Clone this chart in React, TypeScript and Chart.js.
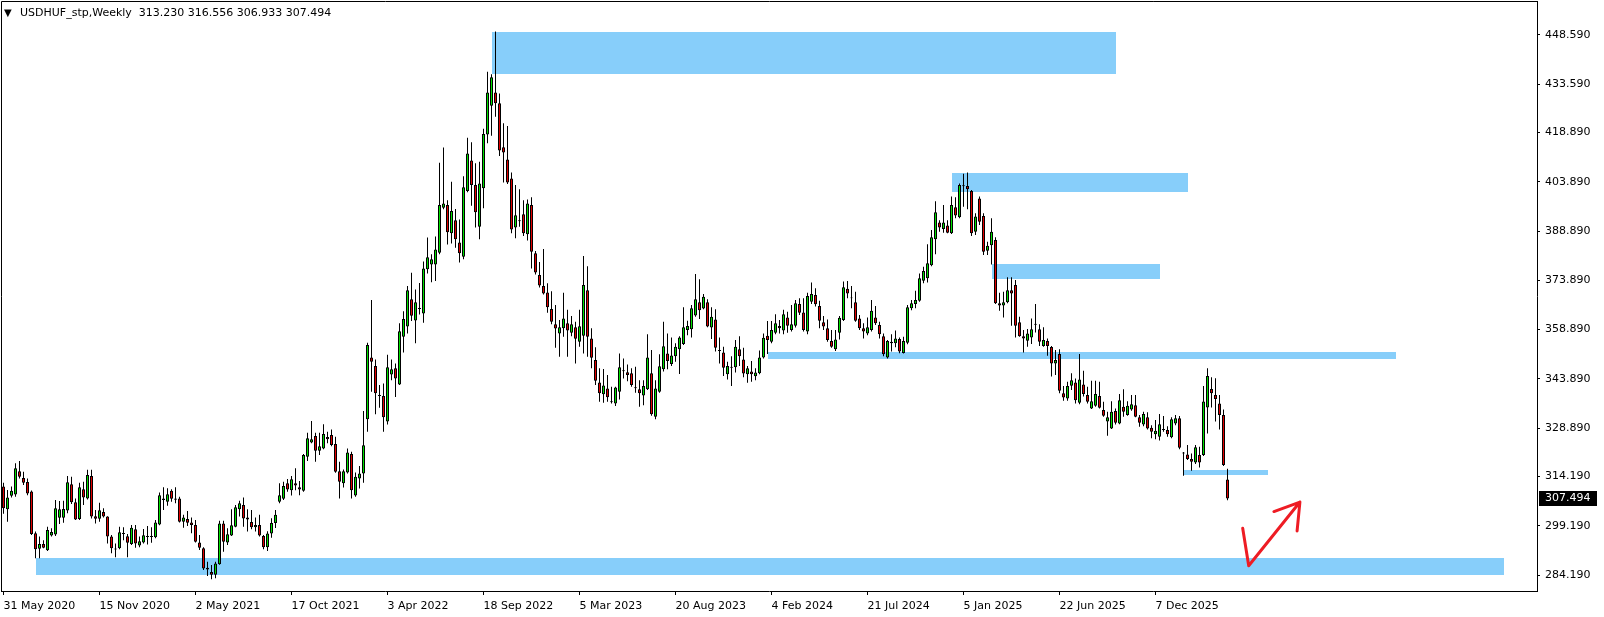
import React, { useEffect, useRef } from 'react';
import { Chart, registerables } from 'chart.js';

Chart.register(...registerables);

// ---- header text ----
const symbolTitle = 'USDHUF_stp,Weekly';
const headerValues = ['313.230', '316.556', '306.933', '307.494'];

// ---- x axis: weekly bars, first bar = 31 May 2020, label every 24 weeks ----
const dateLabels = [
  '31 May 2020', '15 Nov 2020', '2 May 2021', '17 Oct 2021', '3 Apr 2022', '18 Sep 2022',
  '5 Mar 2023', '20 Aug 2023', '4 Feb 2024', '21 Jul 2024', '5 Jan 2025', '22 Jun 2025', '7 Dec 2025',
];
const labelStep = 24;

// ---- y axis tick labels ----
const priceTicks = [284.19, 299.19, 314.19, 328.89, 343.89, 358.89, 373.89, 388.89, 403.89, 418.89, 433.59, 448.59];

// ---- weekly OHLC ----
const opens = [
  311.1, 304.2, 308.3, 308.7, 315.8, 313.7, 312.5, 309.6, 296.9, 292.2,
  293.6, 291.7, 296.2, 296.5, 301.6, 301.6, 303.8, 311.8, 306.3, 301.2,
  310.3, 307.5, 314.3, 302.1, 301.3, 303.4, 302.0, 295.9, 292.0, 292.3,
  296.9, 296.0, 293.6, 298.1, 293.2, 294.1, 295.8, 296.0, 295.7, 299.6,
  307.0, 306.5, 309.8, 307.5, 307.5, 300.4, 301.2, 300.2, 299.4, 294.1,
  292.3, 286.4, 285.1, 284.3, 287.5, 299.9, 294.1, 296.2, 298.9, 304.2,
  305.5, 301.7, 300.3, 298.7, 299.4, 296.1, 292.6, 296.8, 300.0, 306.5,
  307.4, 312.1, 310.0, 312.1, 310.9, 309.8, 320.2, 324.5, 326.5, 322.0,
  322.7, 326.2, 326.8, 324.1, 315.8, 312.1, 315.4, 321.0, 308.4, 313.6,
  315.1, 331.6, 350.4, 347.8, 338.9, 338.7, 330.9, 345.2, 347.1, 342.2,
  356.7, 359.8, 368.1, 361.7, 365.4, 363.8, 377.3, 378.7, 378.7, 382.3,
  396.0, 396.8, 388.2, 392.2, 385.4, 381.1, 401.1, 410.4, 402.9, 390.2,
  401.9, 418.3, 427.0, 431.1, 427.8, 414.4, 410.7, 404.9, 390.0, 392.1,
  394.0, 387.9, 396.8, 382.1, 375.5, 372.2, 370.2, 365.2, 360.5, 357.7,
  359.3, 360.8, 357.9, 359.6, 355.2, 357.0, 370.9, 356.2, 349.6, 342.8,
  339.2, 341.0, 337.1, 336.4, 340.0, 346.5, 345.9, 345.6, 341.3, 340.7,
  338.8, 340.7, 345.6, 332.4, 340.0, 346.8, 351.6, 348.4, 350.8, 352.9,
  354.5, 358.8, 359.0, 363.2, 367.2, 365.3, 367.2, 359.5, 362.0, 352.6,
  351.9, 345.3, 347.5, 347.4, 352.9, 349.8, 345.3, 346.1, 344.7, 345.6,
  350.4, 357.0, 355.2, 357.9, 360.0, 358.6, 362.6, 358.8, 360.1, 366.7,
  364.1, 358.3, 367.4, 369.4, 366.1, 361.1, 359.3, 355.4, 352.9, 357.9,
  361.8, 371.3, 368.7, 367.2, 362.3, 359.3, 357.7, 358.8, 362.6, 360.3,
  356.9, 350.4, 355.2, 354.7, 356.0, 351.8, 354.9, 365.4, 366.7, 367.7,
  373.8, 374.5, 378.5, 386.4, 391.5, 389.5, 390.6, 388.2, 396.1, 393.1,
  402.8, 402.6, 401.1, 388.7, 398.8, 393.5, 382.9, 384.6, 386.2, 366.9,
  366.2, 367.2, 370.9, 372.5, 361.1, 356.9, 355.5, 356.5, 360.6, 359.0,
  353.9, 355.4, 353.6, 348.6, 351.5, 339.5, 337.9, 341.8, 342.8, 336.6,
  342.2, 339.0, 334.9, 335.7, 338.7, 334.4, 330.9, 328.8, 334.1, 330.3,
  335.4, 332.9, 334.6, 335.9, 332.2, 330.0, 332.2, 329.0, 327.0, 326.3,
  328.6, 328.3, 326.1, 330.3, 331.9, 321.5, 320.9, 319.5, 318.4, 320.7,
  320.7, 335.2, 340.8, 339.0, 336.4, 332.9, 313.23,
];
const highs = [
  312.3, 310.1, 311.1, 318.2, 318.9, 315.6, 313.6, 309.9, 297.4, 295.9,
  294.8, 298.9, 298.4, 307.0, 306.7, 306.8, 314.3, 314.1, 307.5, 312.3,
  312.6, 316.2, 316.2, 304.0, 306.2, 304.5, 302.1, 296.4, 293.8, 298.9,
  298.7, 296.7, 299.4, 299.4, 295.9, 298.2, 299.1, 298.7, 300.9, 309.3,
  310.9, 310.6, 310.3, 310.9, 308.0, 302.5, 303.7, 301.7, 300.9, 296.4,
  292.6, 288.2, 287.2, 288.2, 300.7, 300.7, 298.4, 304.2, 305.5, 306.8,
  307.8, 304.2, 304.0, 301.7, 302.5, 296.4, 297.5, 301.5, 304.0, 312.1,
  312.6, 313.4, 314.3, 316.7, 312.8, 321.0, 327.5, 331.1, 327.5, 327.5,
  330.1, 327.8, 328.5, 326.3, 318.7, 316.3, 322.7, 321.7, 315.4, 317.4,
  334.1, 354.9, 367.9, 349.8, 342.0, 342.5, 351.2, 349.8, 348.6, 360.8,
  364.5, 372.2, 376.2, 371.1, 373.1, 379.6, 386.9, 381.8, 387.2, 409.7,
  414.3, 398.3, 403.9, 395.6, 392.4, 405.6, 417.3, 415.9, 409.5, 410.0,
  420.0, 437.4, 436.6, 449.6, 430.8, 421.7, 420.9, 406.7, 402.9, 401.6,
  398.3, 398.5, 399.2, 382.8, 379.5, 383.4, 373.0, 370.6, 366.4, 361.8,
  370.1, 364.9, 363.0, 361.3, 364.9, 381.3, 378.2, 359.3, 353.5, 347.1,
  346.9, 345.1, 341.5, 341.5, 351.6, 350.1, 348.3, 347.1, 347.6, 343.5,
  343.5, 357.5, 352.7, 343.5, 351.4, 361.3, 357.7, 356.5, 354.7, 356.9,
  365.7, 361.6, 366.4, 375.8, 374.2, 369.7, 368.1, 365.7, 365.1, 356.5,
  353.7, 349.1, 350.8, 355.7, 356.9, 353.4, 347.8, 349.3, 347.1, 352.5,
  357.7, 361.5, 361.5, 363.6, 361.8, 364.9, 364.3, 366.4, 367.9, 368.4,
  368.4, 370.1, 373.2, 371.5, 367.7, 363.0, 362.0, 358.8, 358.8, 363.0,
  373.5, 373.7, 372.2, 370.4, 363.3, 360.8, 362.6, 367.9, 366.1, 361.3,
  357.7, 355.7, 357.5, 358.6, 356.5, 356.7, 366.4, 367.9, 370.7, 376.0,
  378.0, 384.9, 389.2, 398.0, 392.2, 396.8, 392.2, 399.4, 399.2, 403.4,
  406.3, 406.7, 401.4, 394.3, 399.4, 394.3, 385.6, 392.8, 387.0, 370.1,
  370.4, 374.8, 374.8, 374.0, 362.8, 358.8, 359.1, 362.3, 366.7, 360.5,
  359.6, 356.2, 353.9, 352.7, 352.9, 341.7, 343.0, 345.6, 344.0, 351.5,
  346.4, 341.5, 343.3, 343.3, 343.0, 336.9, 333.9, 337.1, 334.9, 339.3,
  340.7, 337.1, 339.0, 339.0, 332.9, 333.9, 333.7, 329.8, 331.4, 333.2,
  332.6, 329.5, 332.2, 332.9, 332.6, 321.6, 323.8, 321.2, 323.8, 323.2,
  341.7, 347.1, 344.4, 344.1, 339.0, 334.6, 316.556,
];
const lows = [
  302.8, 300.4, 307.8, 308.0, 313.6, 311.6, 308.5, 296.4, 289.3, 289.3,
  292.3, 291.5, 295.9, 296.1, 299.7, 300.1, 303.0, 305.8, 300.9, 300.9,
  305.5, 307.2, 301.4, 299.9, 300.4, 301.7, 293.8, 290.8, 289.6, 292.0,
  294.8, 289.6, 293.3, 292.5, 292.6, 293.8, 293.5, 294.0, 295.4, 299.3,
  304.0, 305.3, 306.5, 306.0, 300.2, 298.6, 299.1, 296.9, 294.1, 291.8,
  285.7, 283.9, 282.9, 283.2, 287.3, 291.3, 293.3, 296.1, 298.7, 302.0,
  298.9, 297.4, 298.1, 297.4, 295.9, 292.0, 291.5, 295.5, 298.5, 306.0,
  307.0, 309.5, 308.4, 310.0, 308.5, 309.5, 318.9, 324.3, 318.7, 320.7,
  322.5, 324.3, 323.4, 315.3, 307.5, 310.8, 315.1, 307.5, 308.0, 310.5,
  312.3, 327.8, 340.0, 333.1, 335.1, 327.8, 330.0, 343.5, 338.4, 342.0,
  351.9, 357.7, 361.5, 354.7, 363.5, 361.0, 376.0, 373.3, 373.7, 381.8,
  395.5, 384.8, 385.1, 383.8, 379.3, 380.3, 400.7, 396.6, 390.0, 386.4,
  395.8, 415.6, 417.9, 423.7, 411.7, 403.7, 403.2, 388.2, 386.7, 390.2,
  387.4, 386.0, 377.5, 375.7, 371.7, 369.6, 364.0, 360.5, 353.4, 350.6,
  356.7, 350.6, 356.9, 348.6, 353.7, 351.6, 350.6, 347.1, 342.0, 336.9,
  336.6, 336.9, 336.4, 335.6, 337.6, 344.0, 343.2, 341.5, 339.7, 335.4,
  335.9, 340.5, 332.7, 331.6, 339.7, 346.1, 346.8, 347.8, 349.1, 345.4,
  354.2, 357.2, 356.5, 362.8, 362.1, 365.1, 359.6, 356.0, 352.2, 348.6,
  344.8, 343.7, 341.7, 345.8, 347.8, 344.4, 342.7, 343.0, 343.5, 345.3,
  350.1, 351.5, 354.7, 357.5, 357.7, 357.5, 357.9, 358.3, 359.5, 363.3,
  358.3, 357.5, 366.7, 365.9, 359.3, 358.8, 355.2, 353.4, 352.4, 355.9,
  361.5, 368.4, 365.4, 361.3, 358.8, 356.2, 357.2, 358.3, 360.3, 356.2,
  350.8, 350.1, 352.2, 353.5, 351.7, 351.6, 354.4, 364.8, 365.4, 367.4,
  373.0, 373.2, 378.2, 381.8, 388.7, 388.4, 388.2, 388.0, 392.8, 392.8,
  396.3, 395.5, 387.4, 387.7, 390.7, 381.6, 381.6, 378.7, 366.7, 364.6,
  362.6, 366.9, 360.1, 356.5, 356.7, 351.9, 353.7, 354.5, 358.0, 353.9,
  353.7, 350.9, 344.6, 345.1, 339.5, 337.2, 337.2, 340.5, 336.4, 336.2,
  338.5, 336.4, 334.7, 335.4, 334.9, 332.4, 326.6, 328.6, 330.0, 330.1,
  332.4, 332.7, 334.2, 332.2, 329.3, 329.5, 328.5, 325.8, 325.5, 325.1,
  327.8, 326.3, 325.8, 329.8, 322.5, 314.4, 319.2, 315.9, 318.0, 316.9,
  320.4, 327.3, 335.2, 330.9, 328.5, 317.4, 306.933,
];
const closes = [
  304.5, 307.8, 309.8, 316.7, 314.1, 312.3, 309.0, 296.7, 292.0, 293.6,
  292.5, 297.9, 297.3, 304.5, 304.2, 304.3, 312.4, 306.3, 301.1, 310.9,
  307.8, 314.6, 302.0, 301.3, 303.9, 302.0, 295.9, 292.3, 292.2, 297.2,
  296.7, 294.0, 298.6, 293.8, 294.5, 296.3, 296.0, 295.8, 300.2, 308.5,
  307.5, 308.8, 307.4, 307.1, 300.4, 301.7, 300.1, 299.4, 294.3, 292.5,
  286.2, 285.9, 284.3, 287.7, 299.9, 294.3, 296.6, 299.3, 304.8, 306.0,
  301.4, 301.1, 298.7, 299.4, 296.2, 292.6, 296.8, 300.0, 302.5, 308.5,
  311.3, 310.2, 313.3, 311.4, 310.2, 320.7, 325.8, 325.5, 322.0, 323.4,
  327.1, 325.5, 323.8, 315.6, 312.6, 315.8, 321.5, 310.0, 314.1, 315.1,
  323.7, 354.2, 349.1, 339.5, 338.7, 332.2, 347.4, 346.8, 344.0, 358.4,
  362.1, 370.9, 363.1, 367.2, 365.2, 377.5, 380.9, 380.3, 383.3, 396.8,
  397.3, 388.5, 395.0, 386.4, 382.1, 402.2, 412.5, 402.9, 394.6, 403.4,
  418.4, 431.1, 435.7, 427.8, 413.4, 412.8, 403.7, 389.4, 393.7, 391.9,
  388.2, 397.3, 382.6, 376.3, 372.3, 369.9, 365.7, 361.3, 359.2, 359.6,
  362.3, 358.6, 360.5, 356.1, 359.9, 372.5, 356.7, 350.3, 343.3, 339.5,
  341.9, 338.3, 336.8, 341.3, 347.4, 346.3, 345.1, 342.0, 341.1, 339.5,
  341.7, 350.4, 333.1, 341.0, 347.7, 353.8, 349.3, 351.0, 353.7, 356.5,
  359.6, 360.0, 365.4, 368.1, 364.8, 368.9, 359.8, 362.8, 353.4, 352.4,
  347.3, 347.8, 347.3, 353.7, 350.8, 345.5, 347.1, 345.3, 345.8, 350.4,
  356.4, 355.7, 358.8, 360.8, 359.3, 363.6, 360.1, 360.5, 366.9, 364.0,
  358.8, 369.1, 369.7, 366.6, 361.6, 359.8, 355.7, 353.7, 355.9, 362.5,
  371.8, 369.9, 368.4, 361.6, 359.3, 358.3, 359.6, 364.6, 360.8, 357.5,
  351.4, 355.4, 354.7, 356.2, 352.2, 355.4, 365.7, 366.9, 367.9, 374.5,
  376.7, 379.1, 387.0, 394.6, 390.0, 391.5, 388.4, 396.8, 393.6, 402.9,
  402.5, 401.6, 388.2, 393.3, 391.7, 382.6, 384.4, 388.7, 366.9, 366.2,
  367.2, 370.9, 369.9, 360.1, 356.9, 356.2, 357.7, 359.0, 360.4, 355.2,
  355.7, 353.9, 348.6, 349.6, 340.3, 338.2, 341.7, 343.5, 337.4, 343.7,
  339.3, 336.9, 337.1, 339.3, 335.1, 332.7, 332.2, 333.9, 330.5, 337.4,
  333.9, 335.7, 336.2, 332.4, 330.5, 333.2, 328.8, 327.8, 328.1, 330.1,
  328.4, 327.0, 331.6, 331.9, 322.9, 321.2, 319.5, 318.7, 323.1, 318.4,
  337.0, 344.8, 339.5, 337.8, 332.9, 317.7, 307.494,
];

// ---- rectangles (zones): bar index range and price range ----
const zoneStart = [122, 237, 247, 191, 295, 8];
const zoneEnd = [278, 296, 289, 348, 316, 375];
const zoneLow = [436.8, 400.9, 374.3, 350.0, 314.7, 284.2];
const zoneHigh = [449.6, 406.7, 378.9, 352.1, 316.2, 289.4];

// ---- hand-drawn red arrow (bar index, price); null breaks the stroke ----
const arrowX = [309.8, 311.3, 324.1, null, 317.6, 324.1, 323.4];
const arrowY = [298.4, 287.0, 306.4, null, 303.5, 306.4, 297.6];

const BULL = '#00e000';
const BEAR = '#e00000';
const ZONE = '#87cefa';
const ARROW = '#ee1c24';
const FONT = '"DejaVu Sans", Verdana, sans-serif';

export default function App() {
  const ref = useRef<HTMLCanvasElement>(null);

  useEffect(() => {
    const canvas = ref.current;
    if (!canvas) return;

    const n = opens.length;
    const wickData = opens.map((_, i) => ({ x: i, y: [lows[i], highs[i]] }));
    const bodyData = opens.map((o, i) => {
      let a = o;
      let b = closes[i];
      if (Math.abs(a - b) < 0.3) {
        const m = (a + b) / 2;
        a = m - 0.15;
        b = m + 0.15;
      }
      return { x: i, y: [a, b] };
    });
    const bodyColors = opens.map((o, i) => (closes[i] >= o ? BULL : BEAR));
    const arrowData = arrowX.map((x, i) => ({ x: x == null ? (arrowX[i - 1] as number) : x, y: arrowY[i] }));

    const zonesPlugin = {
      id: 'zones',
      beforeDatasetsDraw(chart: any) {
        const { ctx, chartArea, scales } = chart;
        const xs = scales.x;
        const ys = scales.y;
        ctx.save();
        ctx.beginPath();
        ctx.rect(chartArea.left, chartArea.top, chartArea.right - chartArea.left, chartArea.bottom - chartArea.top);
        ctx.clip();
        ctx.fillStyle = ZONE;
        zoneStart.forEach((s, i) => {
          const x0 = Math.round(xs.getPixelForValue(s));
          const x1 = Math.round(xs.getPixelForValue(zoneEnd[i]));
          const y0 = Math.round(ys.getPixelForValue(zoneHigh[i]));
          const y1 = Math.round(ys.getPixelForValue(zoneLow[i]));
          ctx.fillRect(x0, y0, x1 - x0, y1 - y0);
        });
        ctx.restore();
      },
    };

    const decorPlugin = {
      id: 'decor',
      afterDraw(chart: any) {
        const { ctx, chartArea, scales } = chart;
        const ys = scales.y;
        ctx.save();
        // frame (left + top edges; right/bottom are the axis borders)
        ctx.strokeStyle = '#000';
        ctx.lineWidth = 1;
        ctx.beginPath();
        ctx.moveTo(chartArea.left + 0.5, chartArea.bottom);
        ctx.lineTo(chartArea.left + 0.5, chartArea.top + 0.5);
        ctx.lineTo(chartArea.right, chartArea.top + 0.5);
        ctx.stroke();

        // header
        ctx.fillStyle = '#000';
        ctx.textBaseline = 'alphabetic';
        ctx.font = `10px ${FONT}`;
        ctx.fillText('\u25BC', 4, 16);
        ctx.font = `11px ${FONT}`;
        ctx.fillText(`${symbolTitle}  ${headerValues.join(' ')}`, 20, 16);

        // current price label
        const last = closes[n - 1];
        const py = ys.getPixelForValue(last);
        ctx.fillStyle = '#000';
        ctx.fillRect(chartArea.right + 2, Math.round(py) - 7, 58, 15);
        ctx.fillStyle = '#fff';
        ctx.textBaseline = 'middle';
        ctx.fillText(last.toFixed(3), chartArea.right + 8, Math.round(py) + 0.5);
        ctx.restore();
      },
    };

    const chart = new Chart(canvas, {
      type: 'bar',
      data: {
        datasets: [
          {
            type: 'line',
            label: 'arrow',
            data: arrowData as any,
            borderColor: ARROW,
            borderWidth: 3,
            pointRadius: 0,
            fill: false,
            tension: 0,
            spanGaps: false,
            borderCapStyle: 'round',
            borderJoinStyle: 'round',
            order: 0,
          } as any,
          {
            type: 'bar',
            label: 'body',
            data: bodyData as any,
            backgroundColor: bodyColors,
            borderColor: '#000',
            borderWidth: 1,
            borderSkipped: false,
            barThickness: 3,
            grouped: false,
            inflateAmount: 0,
            order: 1,
          } as any,
          {
            type: 'bar',
            label: 'wick',
            data: wickData as any,
            backgroundColor: '#000',
            borderWidth: 0,
            barThickness: 1,
            grouped: false,
            inflateAmount: 0,
            order: 2,
          } as any,
        ],
      },
      options: {
        responsive: false,
        animation: false,
        devicePixelRatio: 1,
        events: [],
        layout: { padding: { left: 1, top: 1, right: 0, bottom: 0 } },
        plugins: {
          legend: { display: false },
          tooltip: { enabled: false },
          title: { display: false },
        },
        scales: {
          x: {
            type: 'linear',
            min: -0.625,
            max: 383.375,
            offset: false,
            grid: { display: true, drawOnChartArea: false, drawTicks: true, tickLength: 4, color: '#000', lineWidth: 1, offset: false },
            border: { display: true, color: '#000', width: 1 },
            ticks: {
              autoSkip: false,
              maxRotation: 0,
              minRotation: 0,
              align: 'start',
              padding: 5,
              color: '#000',
              font: { family: FONT, size: 11 },
              callback: (v: any) => dateLabels[Math.round(Number(v) / labelStep)] ?? '',
            },
            afterBuildTicks: (s: any) => {
              s.ticks = dateLabels.map((_, i) => ({ value: i * labelStep }));
            },
            afterFit: (s: any) => {
              s.height = 26;
              s.paddingLeft = 0;
              s.paddingRight = 0;
            },
          } as any,
          y: {
            type: 'linear',
            position: 'right',
            min: 279.32,
            max: 458.92,
            grid: { display: true, drawOnChartArea: false, drawTicks: true, tickLength: 3, color: '#000', lineWidth: 1 },
            border: { display: true, color: '#000', width: 1 },
            ticks: {
              padding: 5,
              color: '#000',
              font: { family: FONT, size: 11 },
              callback: (v: any) => Number(v).toFixed(3),
            },
            afterBuildTicks: (s: any) => {
              s.ticks = priceTicks.map((v) => ({ value: v }));
            },
            afterFit: (s: any) => {
              s.width = 67;
              s.paddingTop = 0;
              s.paddingBottom = 0;
            },
          } as any,
        },
      },
      plugins: [zonesPlugin, decorPlugin],
    });

    return () => chart.destroy();
  }, []);

  return (
    <div style={{ position: 'fixed', left: 0, top: 0, width: 1604, height: 617, background: '#fff' }}>
      <canvas ref={ref} width={1604} height={617} style={{ display: 'block', width: 1604, height: 617 }} />
    </div>
  );
}
